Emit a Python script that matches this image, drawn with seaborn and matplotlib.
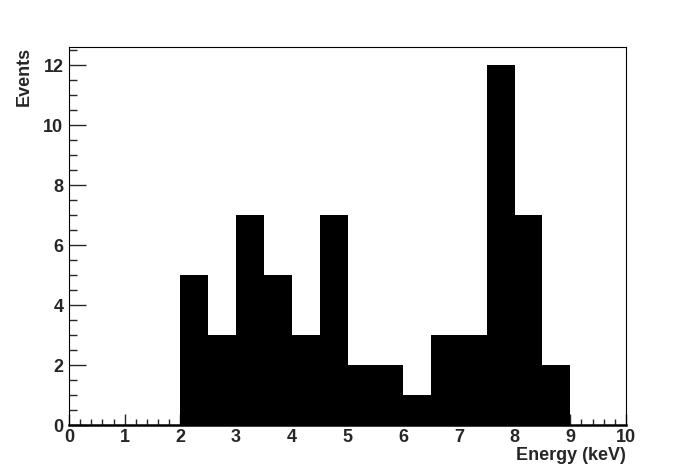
import numpy as np
import pandas as pd
import matplotlib
matplotlib.use("Agg")
import matplotlib.pyplot as plt
from matplotlib.ticker import MultipleLocator
import seaborn as sns

# bin edges (keV) and counts per bin
bin_edges = np.arange(0, 10.5, 0.5)
counts = [0, 0, 0, 0, 5, 3, 7, 5, 3, 7, 2, 2, 1, 3, 3, 12, 7, 2, 0, 0]
bin_centers = bin_edges[:-1] + 0.25
df = pd.DataFrame({'energy': bin_centers, 'events': counts})

sns.set_style("white")
plt.rcParams['font.family'] = ['Liberation Sans', 'DejaVu Sans']
plt.rcParams['font.weight'] = 'bold'

fig = plt.figure(figsize=(6.96, 4.72), dpi=100)
ax = fig.add_axes([69 / 696, 47 / 472, 557 / 696, 378 / 472])

sns.histplot(data=df, x='energy', weights='events', binwidth=0.5, binrange=(0, 10),
             color='black', alpha=1, edgecolor='none', linewidth=0, ax=ax)

ax.set_xlim(0, 10)
ax.set_ylim(0, 12.6)
ax.xaxis.set_major_locator(MultipleLocator(1))
ax.xaxis.set_minor_locator(MultipleLocator(0.2))
ax.yaxis.set_major_locator(MultipleLocator(2))
ax.yaxis.set_minor_locator(MultipleLocator(0.5))
ax.tick_params(axis='x', which='major', direction='in', length=8, width=1, labelsize=13, pad=3)
ax.tick_params(axis='x', which='minor', direction='in', length=4, width=1)
ax.tick_params(axis='y', which='major', direction='in', length=12, width=1, labelsize=13, pad=4)
ax.tick_params(axis='y', which='minor', direction='in', length=6, width=1)
ax.tick_params(bottom=True, left=True, which='both')
for lbl in ax.get_xticklabels() + ax.get_yticklabels():
    lbl.set_fontweight('bold')

for s in ax.spines.values():
    s.set_color('black')
    s.set_linewidth(0.8)
ax.spines['bottom'].set_linewidth(1.8)

ax.set_xlabel('Energy (keV)', fontsize=13, fontweight='bold')
ax.xaxis.set_label_coords(1.0, -0.081)
ax.xaxis.label.set_horizontalalignment('right')
ax.xaxis.label.set_verticalalignment('center')
ax.set_ylabel('Events', fontsize=13, fontweight='bold')
ax.yaxis.set_label_coords(-0.081, 1.0)
ax.yaxis.label.set_horizontalalignment('right')
ax.yaxis.label.set_verticalalignment('center')

fig.savefig('out.png', dpi=100, facecolor='white')
